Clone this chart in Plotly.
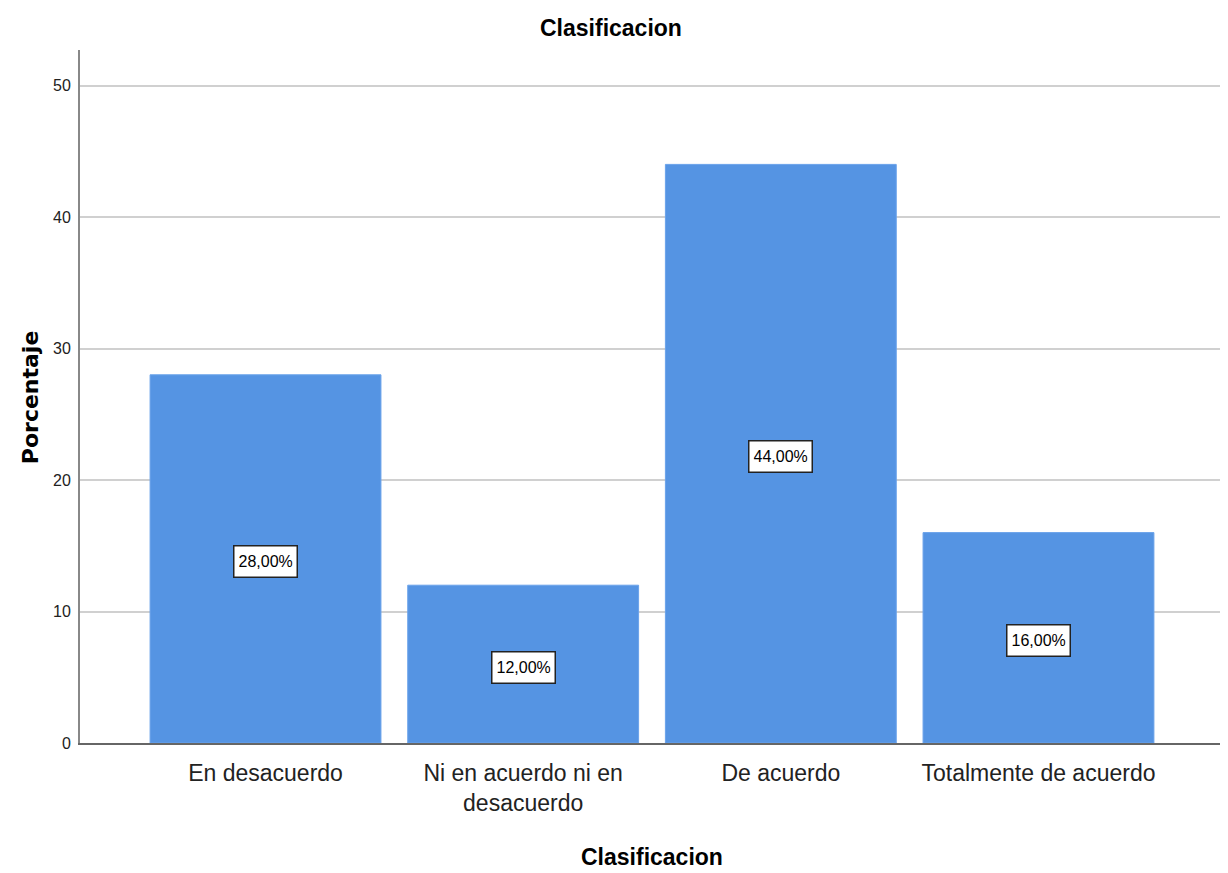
import plotly.graph_objects as go

categories = ["En desacuerdo", "Ni en acuerdo ni en<br>desacuerdo", "De acuerdo", "Totalmente de acuerdo"]
percentages = [28.0, 12.0, 44.0, 16.0]
value_labels = ["28,00%", "12,00%", "44,00%", "16,00%"]
y_ticks = [0, 10, 20, 30, 40, 50]

sans = "Liberation Sans, Arial, sans-serif"

fig = go.Figure()
fig.add_trace(go.Bar(
    x=list(range(len(categories))),
    y=percentages,
    width=0.896,
    marker=dict(color="#5594e3", line=dict(color="#6aa3ea", width=1)),
    hoverinfo="skip",
))

# value boxes in the middle of each bar
for i, (v, lab) in enumerate(zip(percentages, value_labels)):
    fig.add_annotation(
        x=i, y=v / 2, text=lab, showarrow=False, yshift=-3,
        font=dict(family=sans, size=16, color="black"),
        height=22,
        bgcolor="white", bordercolor="#222", borderwidth=1.5, borderpad=4,
    )

# axis titles
fig.add_annotation(
    xref="paper", yref="paper", x=0.5, y=-0.165,
    text="<b>Clasificacion</b>", showarrow=False,
    font=dict(family=sans, size=23, color="black"),
    xanchor="center", yanchor="middle",
)
fig.add_annotation(
    xref="paper", yref="paper", x=-0.0437, y=0.499,
    text="<b>Porcentaje</b>", showarrow=False, textangle=-90,
    font=dict(family="DejaVu Sans, sans-serif", size=22, color="black"),
    xanchor="center", yanchor="middle",
)

fig.update_layout(
    width=1228, height=873,
    margin=dict(l=72, r=12, t=42, b=138),
    paper_bgcolor="white", plot_bgcolor="white",
    showlegend=False,
    font=dict(family=sans, color="#222"),
    title=dict(text="<b>Clasificacion</b>", x=0.491, xanchor="center",
               y=0.977, yanchor="middle",
               font=dict(family=sans, size=23, color="black")),
    xaxis=dict(
        range=[-0.72, 3.72],
        tickvals=list(range(len(categories))), ticktext=categories,
        tickfont=dict(family=sans, size=23, color="#222"),
        showgrid=False, zeroline=False,
        showline=True, linecolor="#666", linewidth=2,
        ticks="", ticklabelstandoff=8,
    ),
    yaxis=dict(
        range=[0, 52.7],
        tickvals=y_ticks,
        tickfont=dict(family=sans, size=16, color="#222"),
        showgrid=True, gridcolor="#d0d0d0", gridwidth=2,
        zeroline=False,
        showline=True, linecolor="#888", linewidth=2,
        ticks="", ticklabelstandoff=4,
    ),
)

fig.write_html("out.html")
